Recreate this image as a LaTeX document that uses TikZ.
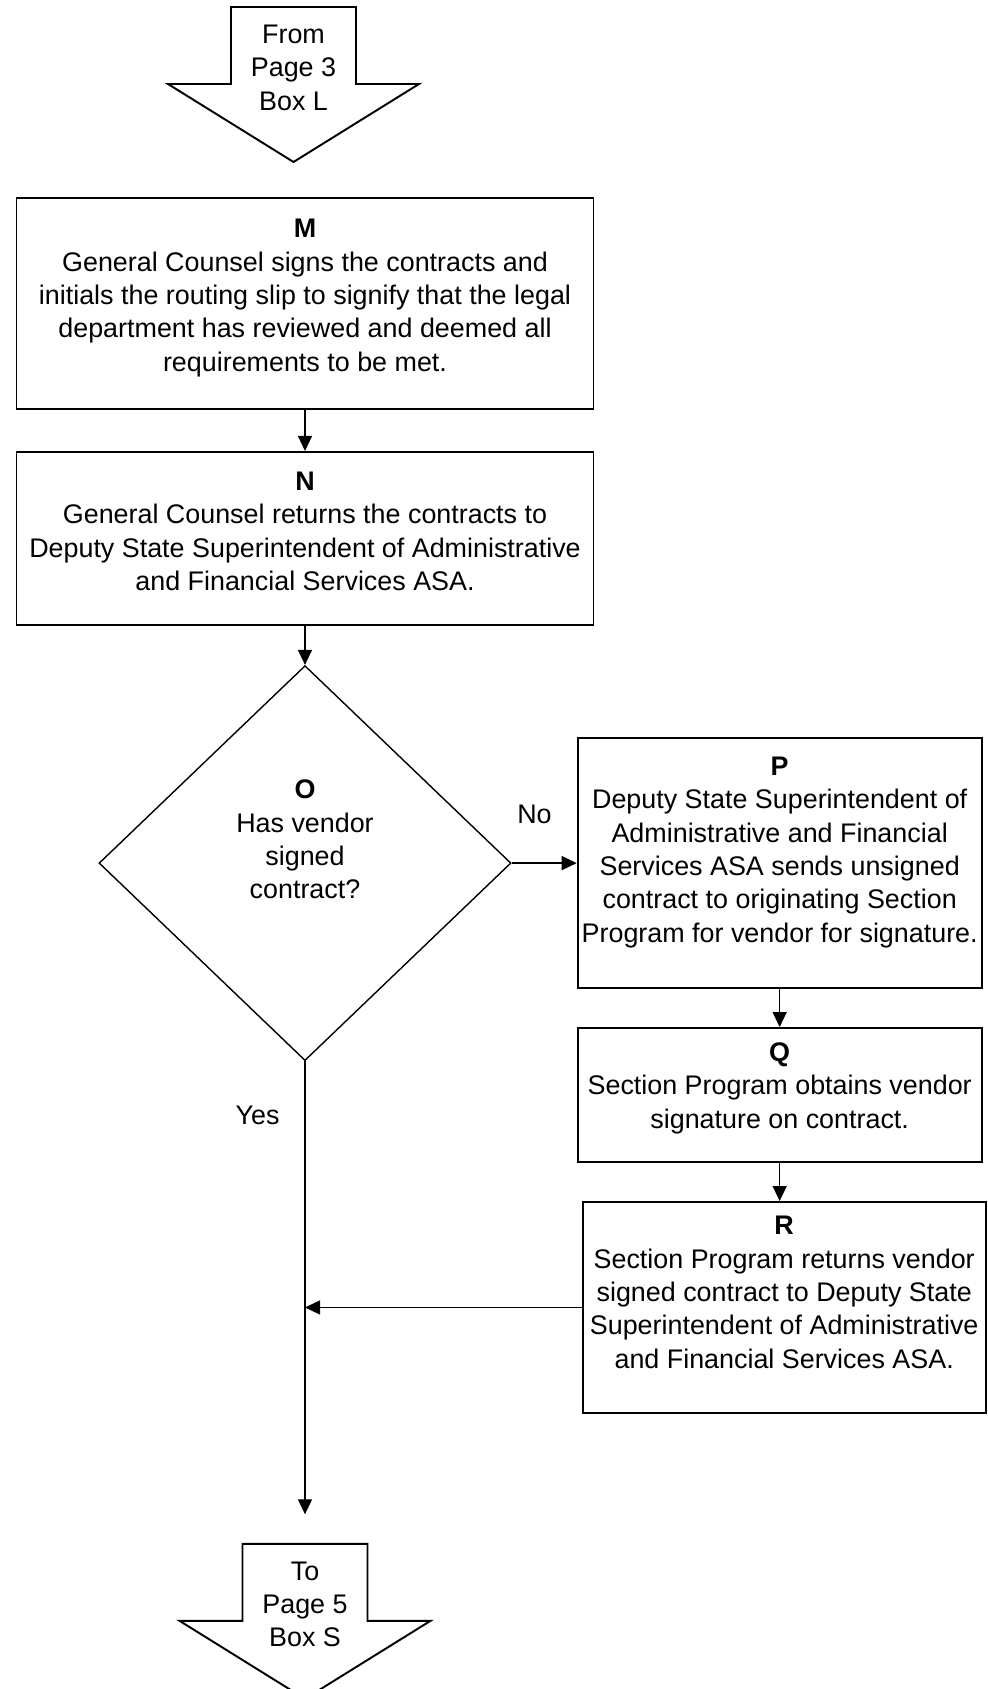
\documentclass[tikz,border=0pt]{standalone}
\usepackage{fontspec}
\setmainfont{Liberation Sans}
\usetikzlibrary{shapes.geometric,positioning,arrows.meta}

\newcommand{\pad}[1]{\rule[-#1]{0pt}{#1}}

\begin{document}
\begin{tikzpicture}[
				> = {Triangle[length=0.3cm,width=0.28cm]}, % arrow head style
				line width = 0.75pt, % line style
				font=\fontsize{15.3}{19}\selectfont
				]
				
				\tikzset{
				box/.style={
				draw,
				line width = 1.1pt,
				align = center,
				inner xsep = 1pt,
				minimum width = #1
				},
				decision/.style={
				draw,
				diamond,
				align = center,
				line width = 0.8pt,
				minimum width = 8.24cm,
				minimum height = 7.9cm
				},
				offpage/.style={align = center, inner sep = 0pt}
				}
				
				\useasboundingbox (0,0) rectangle (19.74,-33.78);
				
				\node[offpage] (from) at (5.87,-1.35) {From\\Page 3\\Box L};
				\node[box=11.54cm, minimum height=4.22cm] (M) at (6.1,-6.07) {\textbf{M}\\General Counsel signs the contracts and\\initials the routing slip to signify that the legal\\department has reviewed and deemed all\\requirements to be met.\pad{0.33cm}};
				\node[box=11.54cm, minimum height=3.46cm] (N) [below=0.82cm of M] {\textbf{N}\\General Counsel returns the contracts to\\Deputy State Superintendent of Administrative\\and Financial Services ASA.\pad{0.29cm}};
				\node[decision] (O) [below=0.78cm of N] {\textbf{O}\\Has vendor\\signed\\contract?\pad{0.95cm}};
				\node[box=8.08cm, minimum height=5cm] (P) [right=1.3cm of O] {\textbf{P}\\Deputy State Superintendent of\\Administrative and Financial\\Services ASA sends unsigned\\contract to originating Section\\Program for vendor for signature.\pad{0.54cm}};
				\node[box=8.08cm, minimum height=2.68cm] (Q) [below=0.76cm of P] {\textbf{Q}\\Section Program obtains vendor\\signature on contract.\pad{0.39cm}};
				\node[box=8.06cm, minimum height=4.22cm, xshift=0.09cm] (R) [below=0.76cm of Q] {\textbf{R}\\Section Program returns vendor\\signed contract to Deputy State\\Superintendent of Administrative\\and Financial Services ASA.\pad{0.61cm}};
				\node[offpage] (to) at ([yshift=-10.86cm]O.south) {To\\Page 5\\Box S};
				\coordinate (end) at ([yshift=1.8cm]to.center);
				
				% off-page arrows
				\foreach \n in {from,to}
				\draw[line width=1.1pt] ([shift={(-1.25,1.21)}]\n.center) -- ++(2.5,0) -- ++(0,-1.54)
				-- ++(1.26,0) -- ++(-2.51,-1.56) -- ++(-2.51,1.56) -- ++(1.26,0) -- cycle;
				
				\draw[->] (M) -- (N);
				\draw[->] (N) -- (O);
				\draw[->] (O.east) -- node[pos=0.35, above=0.66cm] (no) {No} (P.west);
				\draw[->] (P) -- (Q);
				\draw[->] (Q.south) -- (Q.south |- R.north);
				\draw[->] (O.south) -- node[pos=0.12, left=0.38cm] (yes) {Yes} (end);
				\draw[->] (R.west) -- (R.west -| O.south);
			\end{tikzpicture}
\end{document}
